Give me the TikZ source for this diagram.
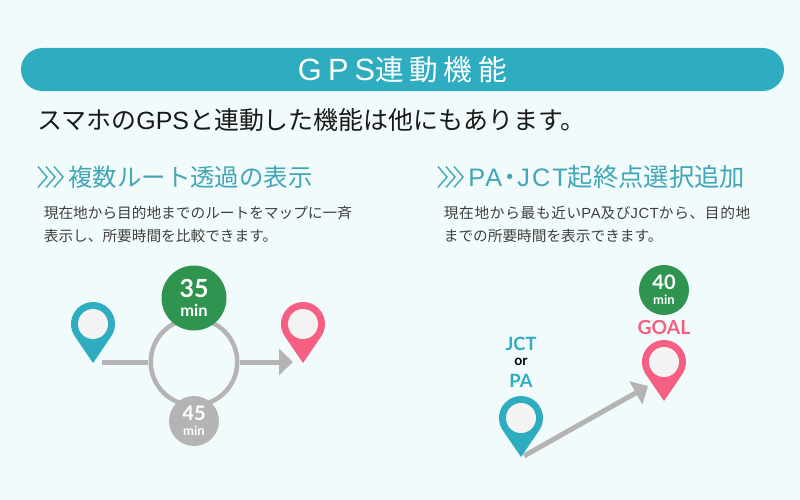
\documentclass[tikz,border=0pt]{standalone}
\usepackage{fontspec}
\usetikzlibrary{arrows.meta}
\setmainfont{Noto Sans CJK JP}
\newfontfamily\pinfont{Lato}
\newfontfamily\latinfont{Liberation Sans}
\definecolor{paper}{HTML}{F2FBFB}
\definecolor{teal}{HTML}{2DADBF}
\definecolor{headteal}{HTML}{41A6B6}
\definecolor{rose}{HTML}{F55F82}
\definecolor{leaf}{HTML}{2F9450}
\definecolor{route}{HTML}{B4B4B4}
\definecolor{hole}{HTML}{F3F3F3}
\tikzset{
  txt/.style={anchor=west,inner sep=0pt},
  subhead/.style={txt,text=headteal,font=\fontsize{13.9}{16}\selectfont},
  body/.style={txt,text=black!75,font=\fontsize{8.35}{10}\selectfont},
  pinhole/.style={circle,fill=hole,minimum size=6mm,inner sep=0pt},
  bigtime/.style={circle,fill=leaf,text=white,minimum size=13mm,inner sep=0pt,align=center},
  smalltime/.style={circle,text=white,minimum size=10mm,inner sep=0pt,align=center},
  routeline/.style={route,line width=1mm},
  routearrow/.style={routeline,-{Triangle[length=2.8mm,width=5.2mm]}},
  pinlabel/.style={inner sep=0pt,font=\pinfont\bfseries\fontsize{10.4}{12}\selectfont},
}
% name, centre, colour
\newcommand{\mappin}[3]{
  \fill[#3] (#2) ++(34.3:22) arc[start angle=34.3,end angle=-214.3,radius=22] -- ++(18.2,26.6) -- cycle;
  \node[pinhole] (#1) at (#2) {};
}
\newcommand{\chevrons}[1]{
  \foreach \i in {0,8,16}
    \draw[headteal,line width=0.28mm] (#1) ++(\i,-10.5) -- ++(9,10.5) -- ++(-9,10.5);
}
\newcommand{\timelabel}[4]{{\pinfont\bfseries\fontsize{#2}{#2}\selectfont #1}\\[#4]{\pinfont\bfseries\fontsize{#3}{#3}\selectfont min}}
\begin{document}
\begin{tikzpicture}[x=0.2mm,y=-0.2mm]
\fill[paper] (0,0) rectangle (800,500);
\useasboundingbox (0,0) rectangle (800,500);

\node[fill=teal,text=white,minimum width=152.6mm,minimum height=8.6mm,rounded corners=4.3mm,inner sep=0pt,
  font=\fontsize{16.3}{18}\selectfont] (title) at (402.5,69.5) {\addfontfeature{LetterSpace=20}{\fontsize{17.5}{18}\latinfont\addfontfeature{LetterSpace=20}GPS}連動機能};
\node[txt,text=black!90,font=\fontsize{14.2}{17}\selectfont] (lead) at (37,120) {スマホの{\latinfont GPS}と連動した機能は他にもあります。};

% left column
\chevrons{38,177}
\node[subhead] (headleft) at (68,177) {複数ルート透過の表示};
\node[body] (lineleftA) at (43.5,213) {現在地から目的地までのルートをマップに一斉};
\node[body] (lineleftB) at (43.5,236) {表示し、所要時間を比較できます。};

\mappin{startpin}{93,324}{teal}
\mappin{endpin}{303,324}{rose}
\node[circle,draw=route,line width=0.9mm,minimum size=17.3mm,inner sep=0pt] (routeloop) at (194,362) {};
\coordinate (routestart) at (102,362);
\coordinate (routeend) at (293,362);
\draw[routeline] (routestart) -- (routeloop.west);
\draw[routearrow] (routeloop.east) -- (routeend);
\node[bigtime] (fastroute) at (194,298) {\timelabel{35}{14.2}{9.4}{-1pt}};
\node[smalltime,fill=route] (slowroute) at (194,421) {\timelabel{45}{11.4}{7.4}{-3.5pt}};

% right column
\chevrons{438,177}
\node[subhead,font=\fontsize{14.4}{16}\selectfont] (headright) at (468,177) {{\latinfont\addfontfeature{LetterSpace=8}PA}\kern-.2em ・\kern-.2em {\latinfont\addfontfeature{LetterSpace=8}JCT}起終点選択追加};
\node[body] (linerightA) at (443.5,213) {\addfontfeature{LetterSpace=4.7}現在地から最も近い{\latinfont\addfontfeature{LetterSpace=4.7}PA}及び{\latinfont\addfontfeature{LetterSpace=4.7}JCT}から、目的地};
\node[body] (linerightB) at (443.5,236) {までの所要時間を表示できます。};

\mappin{jctpin}{521,418}{teal}
\mappin{goalpin}{664,362}{rose}
\coordinate (jcttip) at (524,456);
\coordinate (goaltip) at (648,386);
\draw[routearrow] (jcttip) -- (goaltip);
\node[smalltime,fill=leaf] (goaltime) at (664,290) {\timelabel{40}{11.4}{7.4}{-3.5pt}};
\node[pinlabel,text=rose,font=\pinfont\bfseries\fontsize{11}{12}\selectfont] (goal) at (664,328) {GOAL};
\node[pinlabel,text=teal] (jct) at (521,344) {JCT};
\node[pinlabel,font=\pinfont\bfseries\fontsize{8}{10}\selectfont] (jctor) at (521,362) {or};
\node[pinlabel,text=teal] (pa) at (521,381) {PA};
\end{tikzpicture}
\end{document}
